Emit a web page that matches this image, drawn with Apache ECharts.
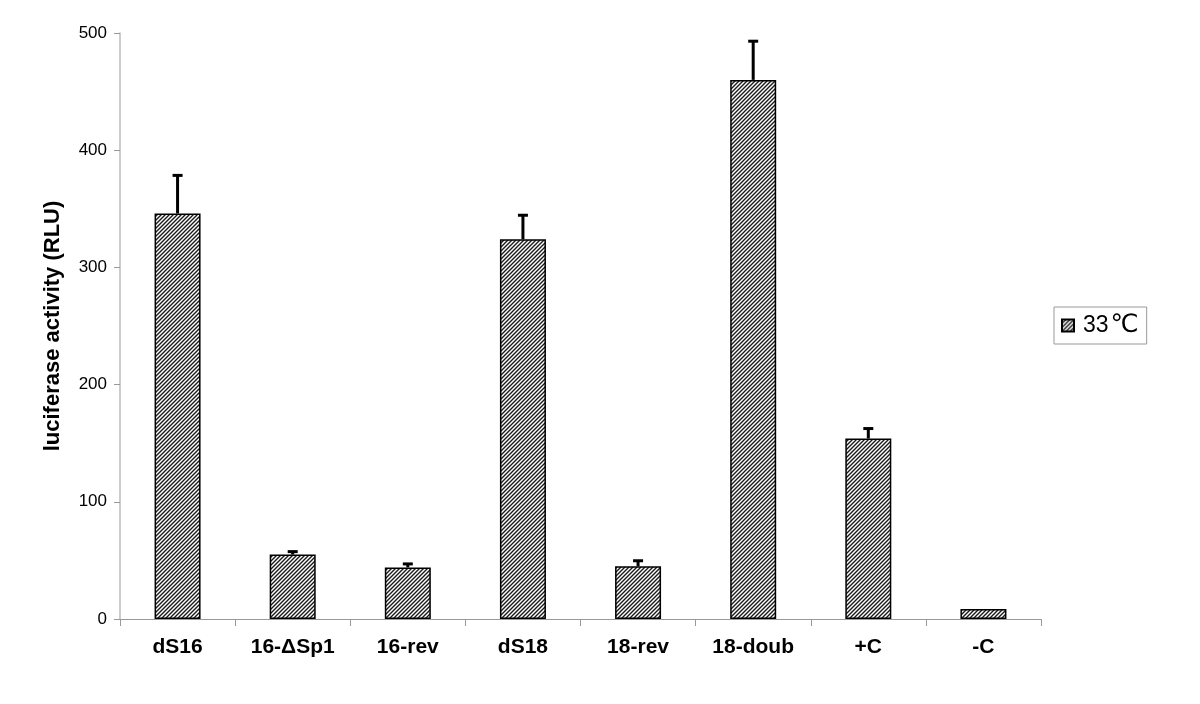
<!DOCTYPE html>
<html>
<head>
<meta charset="utf-8">
<script src="https://cdn.jsdelivr.net/npm/echarts@6/dist/echarts.min.js"></script>
<style>
  html, body { margin: 0; padding: 0; background: #fff; }
  #chart { width: 1200px; height: 704px; }
</style>
</head>
<body>
<div id="chart"></div>
<script>
// data
var categories = ['dS16', '16-\u0394Sp1', '16-rev', 'dS18', '18-rev', '18-doub', '+C', '-C'];
var values = [346, 55, 44, 324, 45, 460, 154, 8.5];
var errors = [32.5, 2.5, 3, 20.5, 4.7, 33, 8.5, 0];
var yTicks = [0, 100, 200, 300, 400, 500];
var seriesName = '33\u2103';

var font = 'Liberation Sans, Arial, sans-serif';

// diagonal hatch fill
function hatch() {
  var c = document.createElement('canvas');
  c.width = 4; c.height = 4;
  var g = c.getContext('2d');
  g.fillStyle = '#fff';
  g.fillRect(0, 0, 4, 4);
  g.strokeStyle = '#1a1a1a';
  g.lineWidth = 1.4;
  g.beginPath();
  g.moveTo(-1, 5); g.lineTo(5, -1);
  g.moveTo(-1, 1); g.lineTo(1, -1);
  g.moveTo(3, 5); g.lineTo(5, 3);
  g.stroke();
  return c;
}
var pattern = { image: hatch(), repeat: 'repeat' };

var errData = values.map(function (v, i) { return [i, v, v + errors[i]]; });

var chart = echarts.init(document.getElementById('chart'));
chart.setOption({
  animation: false,
  grid: { left: 120, right: 159, top: 33, bottom: 85 },
  legend: {
    data: [{ name: seriesName, icon: 'rect' }],
    orient: 'vertical',
    left: 1054, top: 307,
    padding: [6, 8, 6, 7],
    borderColor: '#999', borderWidth: 1,
    itemWidth: 12, itemHeight: 12,
    formatter: function (n) { return '{a|33}{b|\u2103}'; },
    textStyle: {
      fontFamily: font, fontSize: 22, color: '#000',
      rich: {
        a: { fontFamily: font, fontSize: 23, padding: [0, 2, 0, 4] },
        b: { fontFamily: 'DejaVu Sans', fontSize: 25 }
      }
    }
  },
  xAxis: {
    type: 'category',
    data: categories,
    axisLine: { lineStyle: { color: '#999', width: 1 } },
    axisTick: { show: true, length: 7, lineStyle: { color: '#999' } },
    axisLabel: {
      margin: 18, color: '#000', fontWeight: 'bold', fontSize: 21,
      fontFamily: font
    }
  },
  yAxis: {
    type: 'value',
    min: 0, max: 500, interval: 100,
    name: 'luciferase activity (RLU)',
    nameLocation: 'middle',
    nameGap: 56,
    nameTextStyle: { fontWeight: 'bold', fontSize: 22, color: '#000', fontFamily: font },
    axisLine: { show: true, lineStyle: { color: '#bbb', width: 1.5 } },
    axisTick: { show: true, length: 6, lineStyle: { color: '#999' } },
    splitLine: { show: false },
    axisLabel: {
      margin: 13, color: '#000', fontSize: 17,
      fontFamily: font,
      formatter: function (v) { return yTicks.indexOf(v) >= 0 ? String(v) : ''; }
    }
  },
  series: [
    {
      name: seriesName,
      type: 'bar',
      data: values,
      barWidth: 46,
      itemStyle: { color: pattern, borderColor: '#000', borderWidth: 1.5 },
      z: 2
    },
    {
      type: 'custom',
      data: errData,
      z: 3,
      renderItem: function (params, api) {
        var i = api.value(0);
        if (api.value(2) <= api.value(1)) return;
        var base = api.coord([i, api.value(1)]);
        var top = api.coord([i, api.value(2)]);
        var hw = 5;
        var st = { stroke: '#000', lineWidth: 3 };
        return {
          type: 'group',
          children: [
            { type: 'line', shape: { x1: base[0], y1: base[1], x2: top[0], y2: top[1] }, style: st },
            { type: 'line', shape: { x1: top[0] - hw, y1: top[1], x2: top[0] + hw, y2: top[1] }, style: st }
          ]
        };
      }
    }
  ]
});
</script>
</body>
</html>
